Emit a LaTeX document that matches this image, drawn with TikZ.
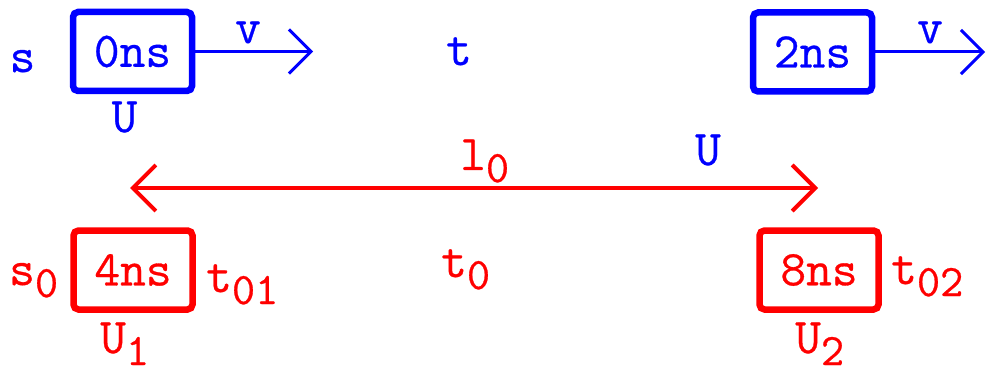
\documentclass[tikz,border=0pt]{standalone}
\usepackage{fontspec}
\newfontfamily\courfont{Latin Modern Mono}[FakeBold=0.6]
\usetikzlibrary{arrows.meta}
\newcommand\mainfs{\courfont\fontsize{50}{50}\selectfont}
\newcommand\subfs{\fontsize{45}{45}\selectfont}
\newcommand\sbs[1]{\raisebox{-12pt}{\subfs #1}}
\tikzset{
  lbl/.style={inner sep=0pt, anchor=base, font=\mainfs},
  lblw/.style={inner sep=0pt, anchor=base west, font=\mainfs},
  boxnode/.style={draw, line width=6.5pt, rounded corners=5pt, minimum width=119pt,
    minimum height=79pt, inner sep=0pt, font=\mainfs},
  barb/.style={-{Straight Barb[length=22pt,width=44pt]}},
  dbarb/.style={{Straight Barb[length=23pt,width=46pt]}-{Straight Barb[length=23pt,width=46pt]}}
}
\begin{document}
\begin{tikzpicture}[x=1pt,y=-1pt]
\useasboundingbox (0,0) rectangle (987,374);
% blue frame
\node[boxnode, blue] (b0) at (132.5,51.5) {0ns};
\node[boxnode, blue] (b2) at (812.5,52) {2ns};
\coordinate (a0) at (313,51.5);
\coordinate (a2) at (985,52);
\draw[blue, line width=3pt, barb] (b0.east) -- (a0);
\draw[blue, line width=3pt, barb] (b2.east) -- (a2);
\node[lbl, blue] (s) at (22.5,72) {s};
\node[lbl, blue] (v0) at (248,43) {v};
\node[lbl, blue] (v2) at (930,43) {v};
\node[lbl, blue] (U0) at (124.5,132) {U};
\node[lbl, blue] (t) at (459,65) {t};
\node[lbl, blue] (Um) at (708,165) {U};
% red frame
\node[boxnode, red] (r4) at (133,270) {4ns};
\node[boxnode, red] (r8) at (819,270) {8ns};
\coordinate (la) at (130,188);
\coordinate (lb) at (818,188);
\draw[red, line width=4pt, dbarb] (la) -- (lb);
\node[lblw, red] (l0) at (460,170) {l\sbs{0}};
\node[lblw, red] (t0) at (441,277) {t\sbs{0}};
\node[lblw, red] (s0) at (9,285) {s\sbs{0}};
\node[lblw, red] (t01) at (206,292) {t\sbs{01}};
\node[lblw, red] (U1) at (100,353) {U\sbs{1}};
\node[lblw, red] (t02) at (891,284) {t\sbs{02}};
\node[lblw, red] (U2) at (795,353) {U\sbs{2}};
\end{tikzpicture}
\end{document}
